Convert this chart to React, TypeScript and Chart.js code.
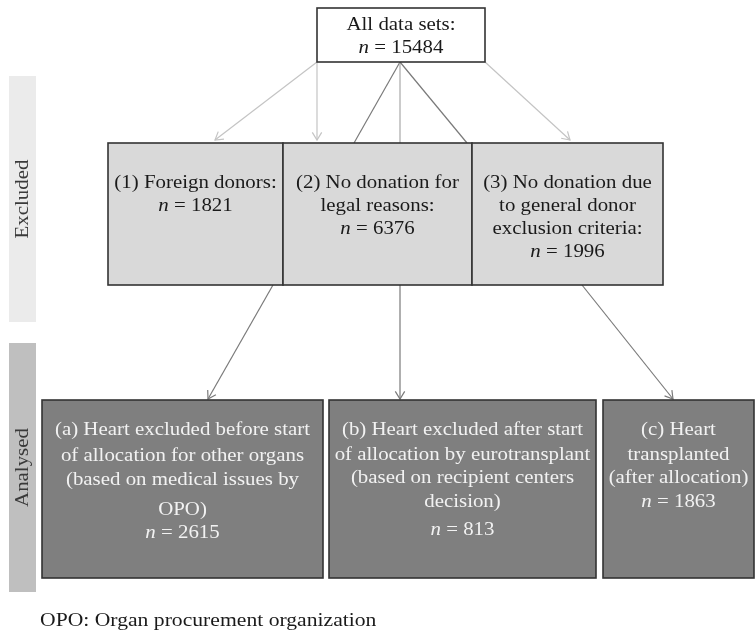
import { useEffect, useRef } from "react";
import { Chart, registerables } from "chart.js";

Chart.register(...registerables);

// ---- content (data) ----
const TOP_TITLE = ["All data sets:"];
const TOTAL_N = 15484;
const EXCLUDED_TITLES = [
  ["(1) Foreign donors:"],
  ["(2) No donation for", "legal reasons:"],
  ["(3) No donation due", "to general donor", "exclusion criteria:"],
];
const EXCLUDED_N = [1821, 6376, 1996];
const ANALYSED_TITLES = [
  ["(a) Heart excluded before start", "of allocation for other organs", "(based on medical issues by", "OPO)"],
  ["(b) Heart excluded after start", "of allocation by eurotransplant", "(based on recipient centers", "decision)"],
  ["(c) Heart", "transplanted", "(after allocation)"],
];
const ANALYSED_N = [2615, 813, 1863];
const GROUP_LABELS = ["Excluded", "Analysed"];
const FOOTNOTE = "OPO: Organ procurement organization";

// ---- layout (positions in scale units) ----
const W = 755;
const H = 635;
const TOP_BOX = { x0: 317, y0: 8, x1: 485, y1: 62, lines: [25, 48] };
const EXCL_BOXES = [
  { x0: 108, y0: 143, x1: 283, y1: 285, lines: [183, 206] },
  { x0: 283, y0: 143, x1: 472, y1: 285, lines: [183, 206, 229] },
  { x0: 472, y0: 143, x1: 663, y1: 285, lines: [183, 206, 229, 252] },
];
const ANAL_BOXES = [
  { x0: 42, y0: 400, x1: 323, y1: 578, lines: [430, 456, 480, 510, 533] },
  { x0: 329, y0: 400, x1: 596, y1: 578, lines: [430, 455, 478, 502, 530] },
  { x0: 603, y0: 400, x1: 754, y1: 578, lines: [430, 455, 478, 502] },
];
const BANDS = [
  { x0: 9, y0: 76, x1: 36, y1: 322, fill: "#ebebeb" },
  { x0: 9, y0: 343, x1: 36, y1: 592, fill: "#bfbfbf" },
];
const CONNECTORS = [
  { from: [317, 62], to: [215, 140], color: "#c4c4c4", head: true },
  { from: [317, 62], to: [317, 140], color: "#c4c4c4", head: true },
  { from: [485, 62], to: [570, 140], color: "#c4c4c4", head: true },
  { from: [400, 62], to: [354, 143], color: "#7a7a7a", head: false },
  { from: [400, 62], to: [400, 143], color: "#a8a8a8", head: false },
  { from: [400, 62], to: [467, 143], color: "#7a7a7a", head: false },
  { from: [273, 285], to: [208, 399], color: "#7a7a7a", head: true },
  { from: [400, 285], to: [400, 399], color: "#7a7a7a", head: true },
  { from: [582, 285], to: [673, 399], color: "#7a7a7a", head: true },
];

const FONT = "'Liberation Serif', 'Times New Roman', serif";
const FS = 18;
const SX = 1.16;

const flowPlugin = {
  id: "flow",
  afterDatasetsDraw(chart: any) {
    const ctx: CanvasRenderingContext2D = chart.ctx;
    const sx = chart.scales.x;
    const sy = chart.scales.y;
    const px = (v: number) => sx.getPixelForValue(v);
    const py = (v: number) => sy.getPixelForValue(v);

    // text helper with horizontal stretch (wider serif look)
    const text = (t: string, x: number, y: number, align: "left" | "center", font: string, stretch = SX) => {
      ctx.save();
      ctx.font = font;
      ctx.textAlign = align;
      ctx.textBaseline = "middle";
      ctx.translate(x, y);
      ctx.scale(stretch, 1);
      ctx.fillText(t, 0, 0);
      ctx.restore();
    };
    const width = (t: string, font: string, stretch = SX) => {
      ctx.save();
      ctx.font = font;
      const w = ctx.measureText(t).width * stretch;
      ctx.restore();
      return w;
    };

    const normal = `${FS}px ${FONT}`;
    const italic = `italic ${FS}px ${FONT}`;

    ctx.save();
    // bands
    BANDS.forEach((b, i) => {
      ctx.fillStyle = b.fill;
      ctx.fillRect(px(b.x0), py(b.y0), px(b.x1) - px(b.x0), py(b.y1) - py(b.y0));
      ctx.save();
      ctx.translate((px(b.x0) + px(b.x1)) / 2 + 1, (py(b.y0) + py(b.y1)) / 2);
      ctx.rotate(-Math.PI / 2);
      ctx.fillStyle = "#3a3a3a";
      text(GROUP_LABELS[i], 0, 0, "center", normal);
      ctx.restore();
    });

    // connectors
    CONNECTORS.forEach((c) => {
      const x0 = px(c.from[0]), y0 = py(c.from[1]);
      const x1 = px(c.to[0]), y1 = py(c.to[1]);
      ctx.strokeStyle = c.color;
      ctx.lineWidth = 1.2;
      ctx.beginPath();
      ctx.moveTo(x0, y0);
      ctx.lineTo(x1, y1);
      ctx.stroke();
      if (c.head) {
        const a = Math.atan2(y1 - y0, x1 - x0);
        const L = 9, sp = 0.55;
        ctx.beginPath();
        ctx.moveTo(x1 - L * Math.cos(a - sp), y1 - L * Math.sin(a - sp));
        ctx.lineTo(x1, y1);
        ctx.lineTo(x1 - L * Math.cos(a + sp), y1 - L * Math.sin(a + sp));
        ctx.stroke();
      }
    });

    const drawBox = (b: any, fill: string) => {
      ctx.fillStyle = fill;
      ctx.fillRect(px(b.x0), py(b.y0), px(b.x1) - px(b.x0), py(b.y1) - py(b.y0));
      ctx.strokeStyle = "#333333";
      ctx.lineWidth = 1.6;
      ctx.strokeRect(px(b.x0), py(b.y0), px(b.x1) - px(b.x0), py(b.y1) - py(b.y0));
    };

    const drawLines = (b: any, title: string[], n: number, color: string) => {
      const cx = (px(b.x0) + px(b.x1)) / 2;
      ctx.fillStyle = color;
      title.forEach((t, i) => text(t, cx, py(b.lines[i]), "center", normal));
      const y = py(b.lines[title.length]);
      const rest = " = " + String(n);
      const wN = width("n", italic);
      const wR = width(rest, normal);
      const start = cx - (wN + wR) / 2;
      text("n", start, y, "left", italic);
      text(rest, start + wN, y, "left", normal);
    };

    drawBox(TOP_BOX, "#ffffff");
    drawLines(TOP_BOX, TOP_TITLE, TOTAL_N, "#1a1a1a");
    EXCL_BOXES.forEach((b) => drawBox(b, "#d9d9d9"));
    EXCL_BOXES.forEach((b, i) => drawLines(b, EXCLUDED_TITLES[i], EXCLUDED_N[i], "#1a1a1a"));
    ANAL_BOXES.forEach((b) => drawBox(b, "#7f7f7f"));
    ANAL_BOXES.forEach((b, i) => drawLines(b, ANALYSED_TITLES[i], ANALYSED_N[i], "#f2f2f2"));

    // footnote
    ctx.fillStyle = "#1a1a1a";
    text(FOOTNOTE, px(40), py(621), "left", `18.5px ${FONT}`, 1.17);
    ctx.restore();
  },
};

export default function App() {
  const ref = useRef<HTMLCanvasElement | null>(null);
  useEffect(() => {
    if (!ref.current) return;
    const chart = new Chart(ref.current, {
      type: "scatter",
      data: { datasets: [{ data: [] }] },
      options: {
        animation: false,
        responsive: true,
        maintainAspectRatio: false,
        layout: { padding: 0 },
        plugins: { legend: { display: false }, tooltip: { enabled: false } },
        scales: {
          x: { type: "linear", min: 0, max: W, display: false },
          y: { type: "linear", min: 0, max: H, reverse: true, display: false },
        },
      },
      plugins: [flowPlugin],
    });
    return () => chart.destroy();
  }, []);
  return (
    <div style={{ position: "fixed", left: 0, top: 0, width: W, height: H, background: "#fff" }}>
      <canvas ref={ref} />
    </div>
  );
}
